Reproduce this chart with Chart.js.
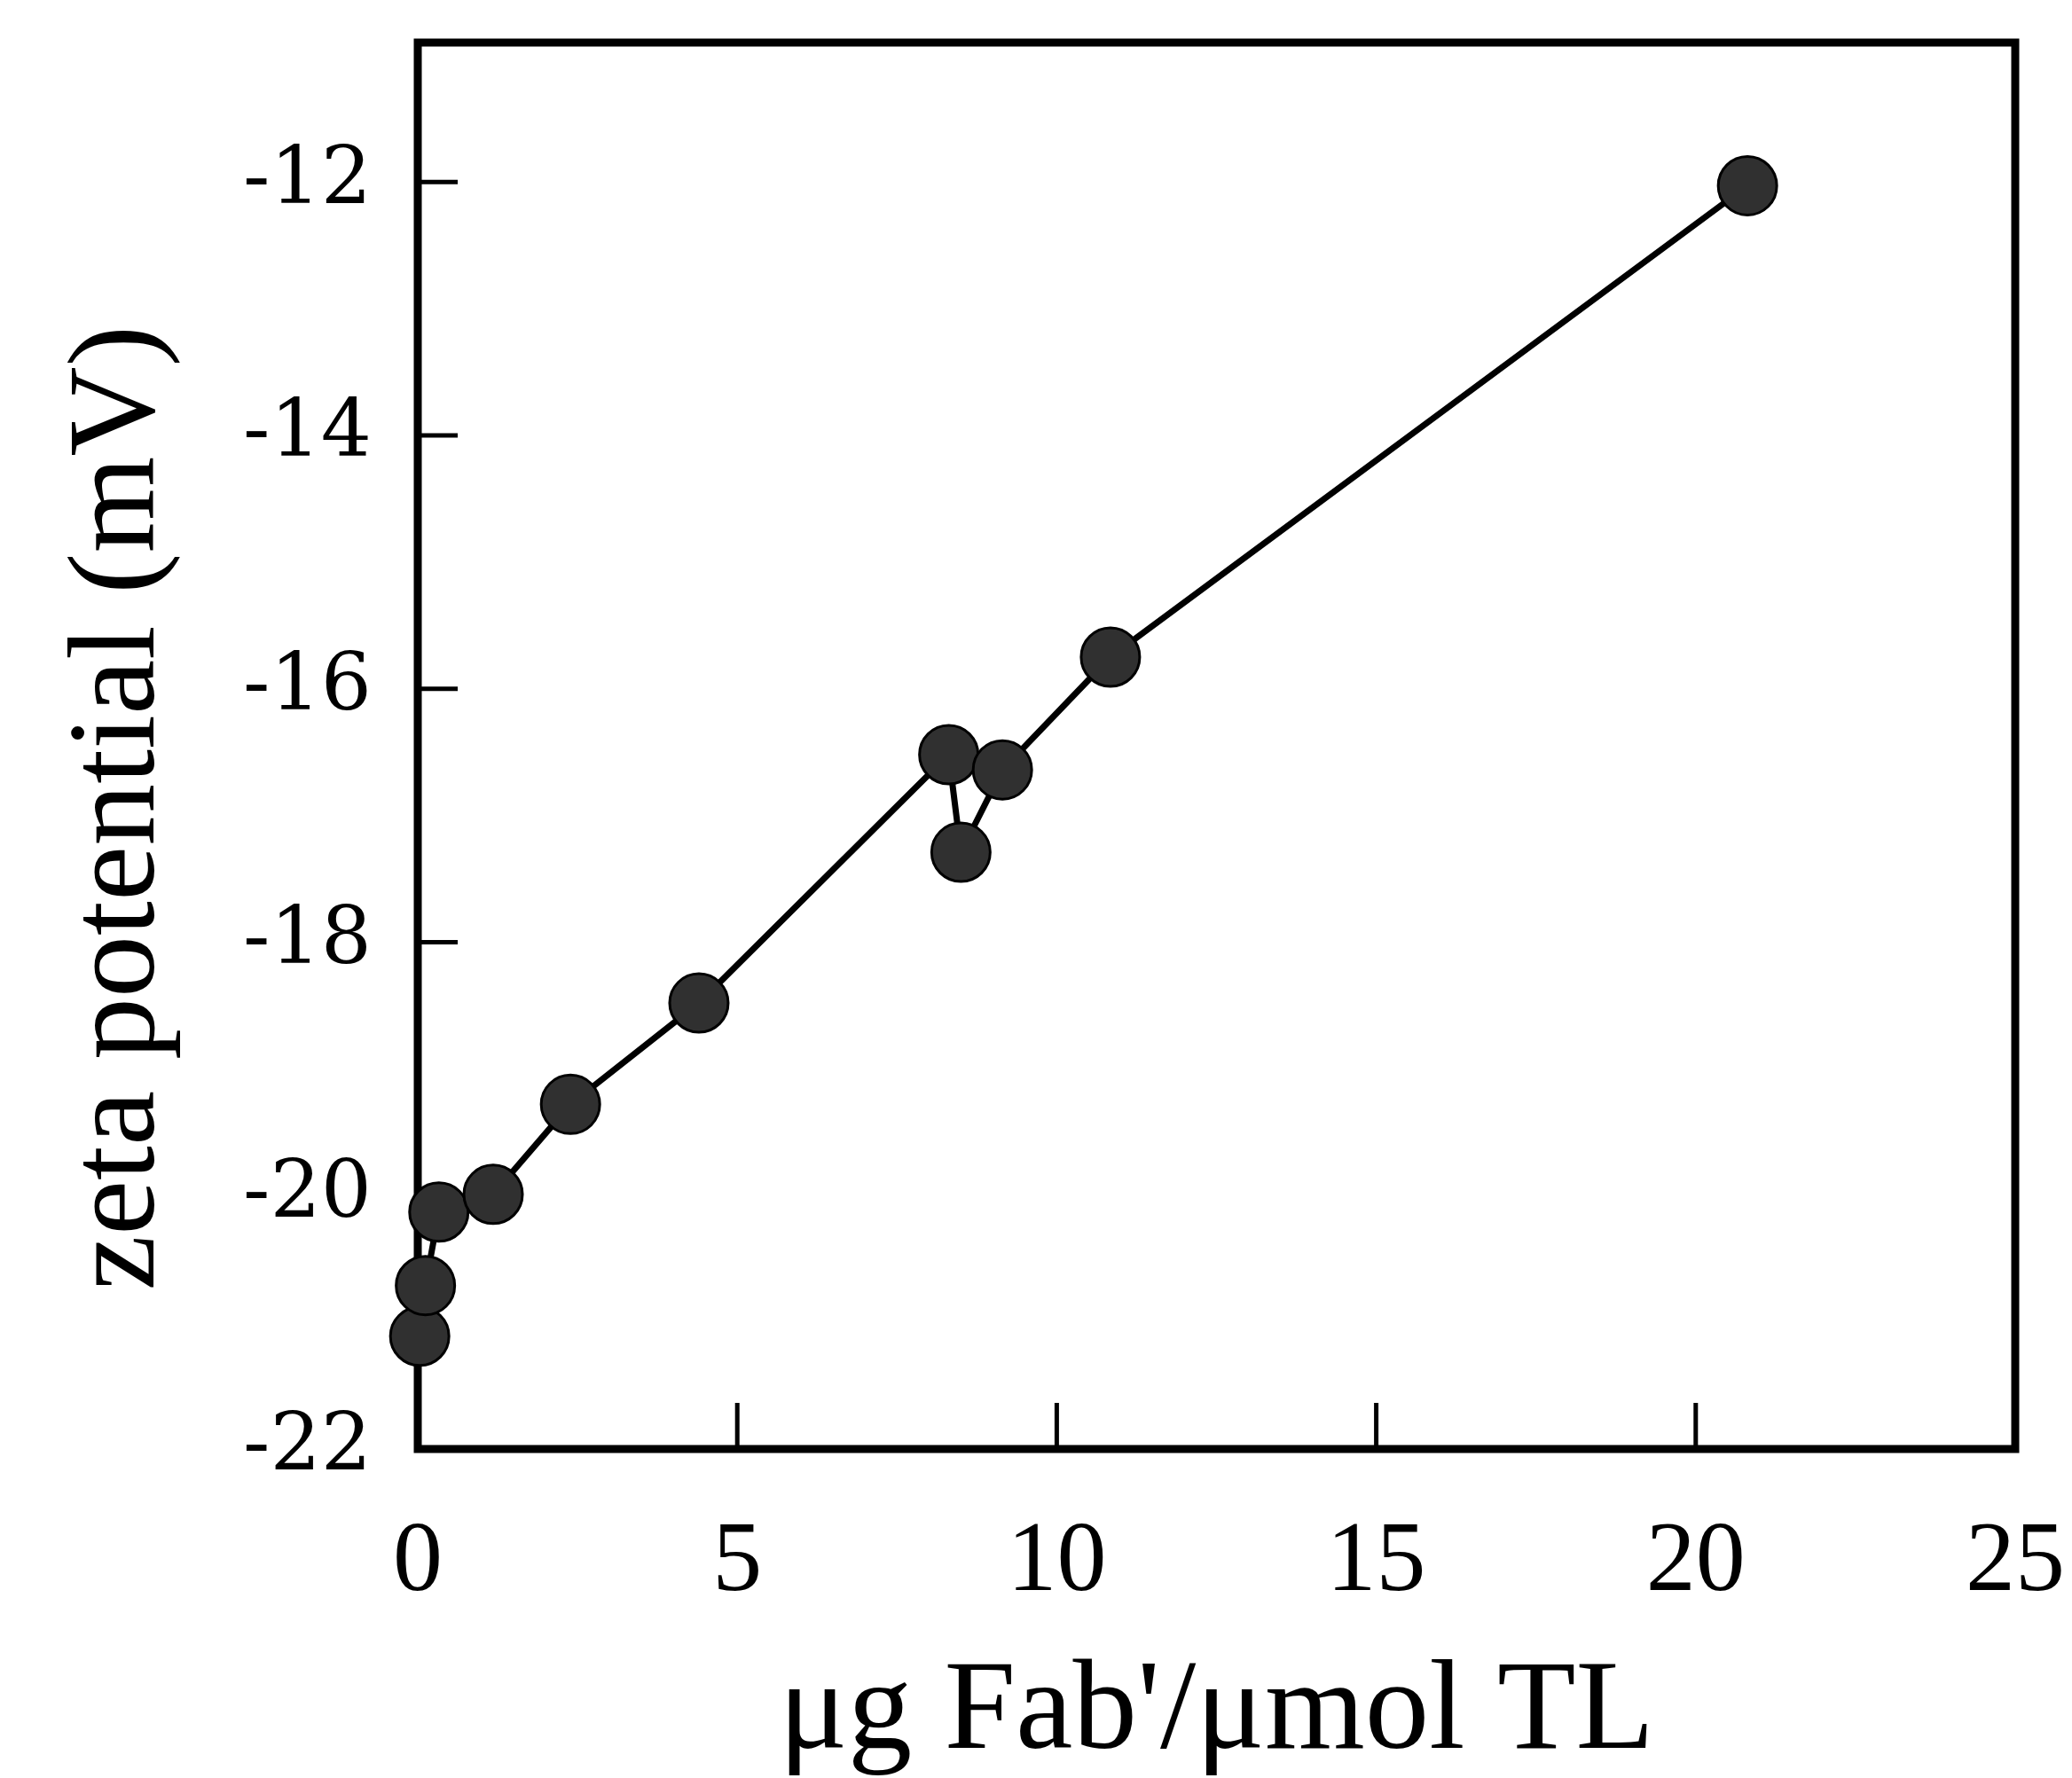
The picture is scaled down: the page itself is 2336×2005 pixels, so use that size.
<!DOCTYPE html>
<html>
<head>
<meta charset="utf-8">
<script src="https://cdn.jsdelivr.net/npm/chart.js@4.4.1/dist/chart.umd.min.js"></script>
<style>
  html, body { margin: 0; padding: 0; background: #fff; }
</style>
</head>
<body>
<canvas id="zetaChart" width="2336" height="2005"></canvas>
<script>
// µg Fab' per µmol total lipid vs zeta potential
const fabAmount = [0.03, 0.12, 0.33, 1.18, 2.39, 4.40, 8.31, 8.50, 9.15, 10.84, 20.81];
const zetaPotential = [-21.11, -20.71, -20.13, -19.99, -19.28, -18.48, -16.52, -17.29, -16.64, -15.75, -12.03];

const xTicks = [0, 5, 10, 15, 20, 25];
const yTicks = [-22, -20, -18, -16, -14, -12];

// box frame + inward tick marks
const frameTicks = {
  id: 'frameTicks',
  beforeDatasetsDraw(chart) {
    const { ctx, chartArea: a, scales } = chart;
    ctx.save();
    ctx.strokeStyle = '#000';
    ctx.lineWidth = 9;
    ctx.strokeRect(a.left, a.top, a.right - a.left, a.bottom - a.top);
    ctx.lineWidth = 5;
    ctx.beginPath();
    scales.x.ticks.forEach(t => {
      const px = scales.x.getPixelForValue(t.value);
      ctx.moveTo(px, a.bottom);
      ctx.lineTo(px, a.bottom - 52);
    });
    scales.y.ticks.forEach(t => {
      const py = scales.y.getPixelForValue(t.value);
      ctx.moveTo(a.left, py);
      ctx.lineTo(a.left + 45, py);
    });
    ctx.stroke();
    ctx.restore();
  }
};

const ctx = document.getElementById('zetaChart').getContext('2d');

new Chart(ctx, {
  type: 'line',
  data: {
    datasets: [{
      data: fabAmount.map((x, i) => ({ x: x, y: zetaPotential[i] })),
      borderColor: '#000',
      borderWidth: 7,
      backgroundColor: '#303030',
      pointBackgroundColor: '#303030',
      pointBorderColor: '#000',
      pointBorderWidth: 3,
      pointRadius: 33,
      tension: 0,
      fill: false,
      clip: false,
    }]
  },
  options: {
    responsive: false,
    animation: false,
    layout: {
      padding: { top: 48, right: 64, left: 0, bottom: 0 }
    },
    plugins: {
      legend: { display: false },
      tooltip: { enabled: false }
    },
    scales: {
      x: {
        type: 'linear',
        min: 0,
        max: 25,
        afterBuildTicks: s => { s.ticks = xTicks.map(v => ({ value: v })); },
        afterFit: s => {
          s.height = 2005 - 1634;
          s.paddingLeft = 0;
          s.paddingRight = 0;
        },
        grid: { display: false, drawTicks: false },
        border: { display: false },
        ticks: {
          color: '#000',
          padding: 62,
          font: { family: 'Liberation Serif', size: 112 }
        },
        title: {
          display: true,
          text: "\u03bcg Fab'/\u03bcmol TL",
          color: '#000',
          padding: { top: 0, bottom: 0 },
          font: { family: 'Liberation Serif', size: 145, lineHeight: 1.0 }
        }
      },
      y: {
        type: 'linear',
        min: -22,
        max: -10.9,
        afterBuildTicks: s => { s.ticks = yTicks.map(v => ({ value: v })); },
        afterFit: s => {
          s.width = 471;
          s.paddingTop = 0;
          s.paddingBottom = 0;
        },
        grid: { display: false, drawTicks: false },
        border: { display: false },
        ticks: {
          color: '#000',
          padding: 52,
          font: { family: 'DejaVu Serif', size: 90 }
        },
        title: {
          display: true,
          text: 'zeta potential (mV)\u2002\u2002',
          color: '#000',
          padding: { top: 52, bottom: 0 },
          font: { family: 'Liberation Serif', size: 140, lineHeight: 1.2 }
        }
      }
    }
  },
  plugins: [frameTicks]
});
</script>
</body>
</html>
